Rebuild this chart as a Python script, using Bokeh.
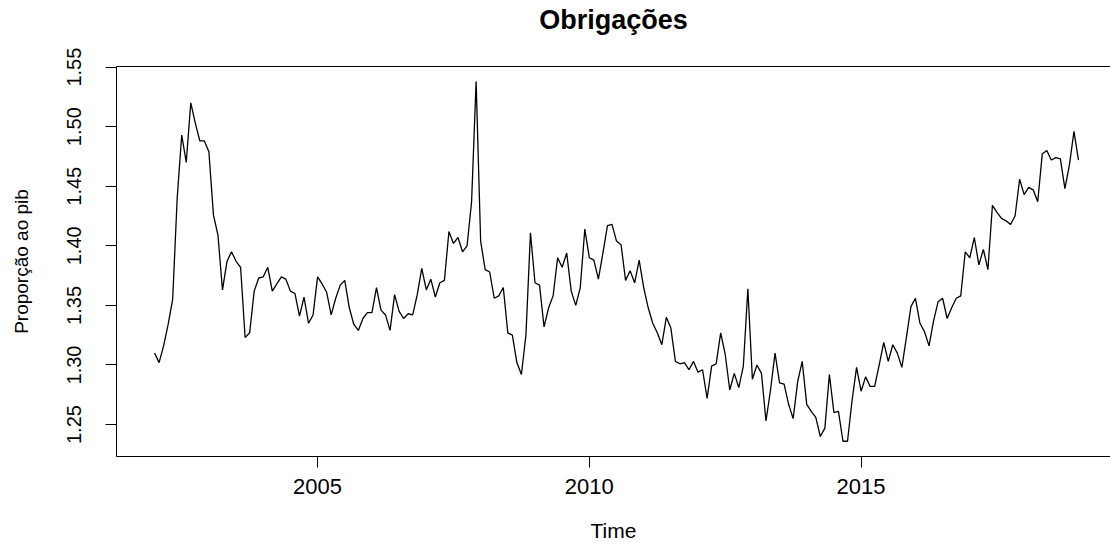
from bokeh.plotting import figure
from bokeh.models import FixedTicker, PrintfTickFormatter, LinearAxis, Range1d
from bokeh.embed import file_html
from bokeh.resources import INLINE

# Monthly series, Jan 2002 .. Jan 2019
start_year = 2002
freq = 12
values = [
    1.310, 1.302, 1.316, 1.334, 1.355, 1.440, 1.493, 1.470, 1.520, 1.503,
    1.488, 1.488, 1.479, 1.426, 1.409, 1.363, 1.387, 1.395, 1.387, 1.382,
    1.323, 1.327, 1.362, 1.373, 1.374, 1.382, 1.362, 1.368, 1.374, 1.372,
    1.362, 1.360, 1.341, 1.357, 1.335, 1.342, 1.374, 1.368, 1.361, 1.342,
    1.356, 1.367, 1.371, 1.348, 1.334, 1.329, 1.339, 1.344, 1.344, 1.365,
    1.346, 1.342, 1.329, 1.359, 1.345, 1.339, 1.343, 1.342, 1.359, 1.381,
    1.363, 1.372, 1.357, 1.369, 1.371, 1.412, 1.402, 1.407, 1.395, 1.400,
    1.437, 1.538, 1.404, 1.380, 1.378, 1.356, 1.358, 1.365, 1.327, 1.325,
    1.302, 1.292, 1.325, 1.411, 1.369, 1.367, 1.332, 1.348, 1.358, 1.390,
    1.382, 1.394, 1.362, 1.350, 1.365, 1.414, 1.390, 1.388, 1.372, 1.394,
    1.417, 1.418, 1.404, 1.401, 1.371, 1.379, 1.369, 1.388, 1.365, 1.348,
    1.335, 1.327, 1.317, 1.340, 1.331, 1.303, 1.301, 1.302, 1.296, 1.303,
    1.294, 1.296, 1.272, 1.299, 1.301, 1.327, 1.309, 1.279, 1.293, 1.281,
    1.299, 1.364, 1.288, 1.300, 1.293, 1.253, 1.279, 1.310, 1.285, 1.284,
    1.267, 1.255, 1.286, 1.303, 1.267, 1.261, 1.256, 1.240, 1.247, 1.292,
    1.260, 1.261, 1.236, 1.236, 1.270, 1.298, 1.278, 1.290, 1.282, 1.282,
    1.300, 1.319, 1.303, 1.317, 1.310, 1.298, 1.323, 1.349, 1.356, 1.335,
    1.328, 1.316, 1.337, 1.353, 1.356, 1.339, 1.348, 1.356, 1.358, 1.395,
    1.390, 1.407, 1.384, 1.397, 1.380, 1.434, 1.428, 1.423, 1.421, 1.418,
    1.425, 1.456, 1.443, 1.449, 1.447, 1.437, 1.477, 1.480, 1.472, 1.474,
    1.473, 1.448, 1.468, 1.496, 1.472,
]
time = [start_year + k / freq for k in range(len(values))]

x_ticks = [2005, 2010, 2015]
y_ticks = [1.25, 1.30, 1.35, 1.40, 1.45, 1.50, 1.55]

title_text = "Obrigações"
x_label = "Time"
y_label = "Proporção ao pib"

FONT = "Liberation Sans"

p = figure(width=1110, height=547, output_backend="svg", toolbar_location=None,
           x_range=Range1d(2001.30, 2019.589), y_range=Range1d(1.2232, 1.5505),
           min_border_left=116, min_border_right=0, min_border_top=66,
           min_border_bottom=91, x_axis_label=x_label, y_axis_label=y_label)

p.line(time, values, line_color="black", line_width=1.3)

p.grid.visible = False
p.outline_line_color = None
p.background_fill_color = "white"
p.border_fill_color = "white"
p.title.text = ""

for ax in (p.xaxis[0], p.yaxis[0]):
    ax.axis_line_color = "black"
    ax.axis_line_width = 1
    ax.major_tick_line_color = "black"
    ax.major_tick_out = 11
    ax.major_tick_in = 0
    ax.minor_tick_line_color = None
    ax.major_label_text_font = FONT
    ax.major_label_text_color = "black"
    ax.axis_label_text_font = FONT
    ax.axis_label_text_font_style = "normal"
    ax.axis_label_text_color = "black"

xa = p.xaxis[0]
xa.ticker = FixedTicker(ticks=x_ticks)
xa.major_label_text_font_size = "22px"
xa.major_label_standoff = 11
xa.axis_label_text_font_size = "21px"
xa.axis_label_standoff = 22

ya = p.yaxis[0]
ya.ticker = FixedTicker(ticks=y_ticks)
ya.formatter = PrintfTickFormatter(format="%.2f")
ya.major_label_orientation = "vertical"
ya.major_label_text_font_size = "20px"
ya.major_label_standoff = 24
ya.axis_label_text_font_size = "19px"
ya.axis_label_standoff = 33

# top edge of the box, carrying the main title as its label
top = LinearAxis(ticker=FixedTicker(ticks=[]), axis_line_color="black",
                 major_tick_line_color=None, minor_tick_line_color=None,
                 major_tick_out=0, major_tick_in=0, major_label_standoff=0,
                 major_label_text_font_size="0px",
                 axis_label=title_text, axis_label_text_font=FONT,
                 axis_label_text_font_size="27px",
                 axis_label_text_font_style="bold",
                 axis_label_text_color="black",
                 axis_label_standoff=32)
p.add_layout(top, "above")

open("out.html", "w").write(file_html(p, INLINE))
